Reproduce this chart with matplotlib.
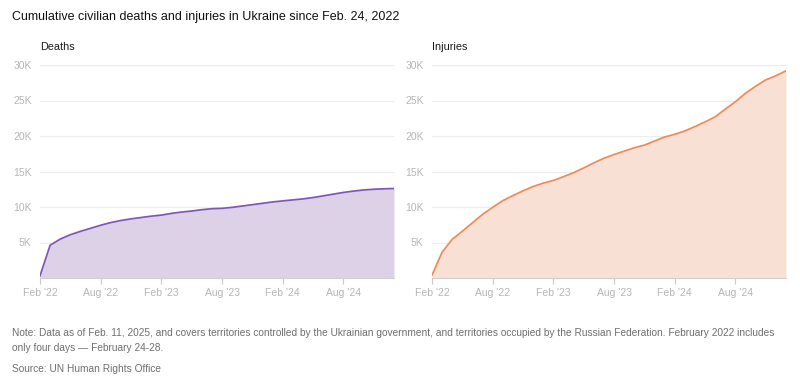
import matplotlib.pyplot as plt

# Данные: ежемесячные накопленные значения, фев 2022 - янв 2025
months = list(range(36))
tick_pos = [0, 6, 12, 18, 24, 30]
tick_labels = ["Feb '22", "Aug '22", "Feb '23", "Aug '23", "Feb '24", "Aug '24"]

deaths = [300, 4620, 5480, 6100, 6570, 7000, 7430, 7810, 8100, 8330, 8520, 8710,
          8860, 9100, 9290, 9430, 9620, 9760, 9810, 9950, 10140, 10330, 10520, 10710,
          10860, 11000, 11140, 11330, 11570, 11810, 12050, 12240, 12400, 12500, 12560, 12605]

injuries = [400, 3650, 5450, 6590, 7770, 8960, 9950, 10900, 11610, 12270, 12890, 13360,
            13740, 14270, 14830, 15500, 16210, 16870, 17390, 17870, 18340, 18720, 19290, 19860,
            20240, 20710, 21330, 21990, 22700, 23790, 24830, 26020, 27010, 27910, 28480, 29178]

yticks = [5000, 10000, 15000, 20000, 25000, 30000]
ytick_labels = ["5K", "10K", "15K", "20K", "25K", "30K"]

plt.rcParams['font.family'] = ['Liberation Sans', 'DejaVu Sans']

fig = plt.figure(figsize=(8, 3.76), dpi=100)

panels = [
    ("Deaths", deaths, "#7e57b5", "#ddd1e8", [40 / 800, 1 - 278 / 376, 354 / 800, 213 / 376]),
    ("Injuries", injuries, "#f08a55", "#f9e0d5", [432 / 800, 1 - 278 / 376, 354 / 800, 213 / 376]),
]

for name, values, line_c, fill_c, rect in panels:
    ax = fig.add_axes(rect)
    ax.fill_between(months, values, 0, color=fill_c, linewidth=0)
    ax.plot(months, values, color=line_c, linewidth=1.25, solid_joinstyle='round')
    ax.set_xlim(0, 35)
    ax.set_ylim(0, 30000)
    ax.set_yticks(yticks)
    ax.set_yticklabels(ytick_labels)
    ax.set_xticks(tick_pos)
    ax.set_xticklabels(tick_labels)
    ax.grid(axis='y', color='#ececec', linewidth=0.8)
    ax.set_axisbelow(True)
    for s in ['top', 'right', 'left']:
        ax.spines[s].set_visible(False)
    ax.spines['bottom'].set_color('#d0d0d0')
    ax.tick_params(axis='y', length=0, pad=6, labelsize=7.5, labelcolor='#b5b5b5')
    ax.tick_params(axis='x', length=4, color='#c8c8c8', pad=3, labelsize=7.5, labelcolor='#b5b5b5')
    ax.text(0, 1.085, name, transform=ax.transAxes, fontsize=7.8, color='#1a1a1a', va='center')

fig.text(12 / 800, 1 - 17 / 376, "Cumulative civilian deaths and injuries in Ukraine since Feb. 24, 2022",
         fontsize=9, color='#111111', va='center')

note1 = ("Note: Data as of Feb. 11, 2025, and covers territories controlled by the Ukrainian government, "
         "and territories occupied by the Russian Federation. February 2022 includes")
note2 = "only four days \u2014 February 24-28."
fig.text(12 / 800, 1 - 333 / 376, note1, fontsize=7.3, color='#6e6e6e', va='center')
fig.text(12 / 800, 1 - 348 / 376, note2, fontsize=7.3, color='#6e6e6e', va='center')
fig.text(12 / 800, 1 - 369 / 376, "Source: UN Human Rights Office", fontsize=7.3, color='#6e6e6e', va='center')

fig.savefig("out.png", dpi=100, facecolor='white')
